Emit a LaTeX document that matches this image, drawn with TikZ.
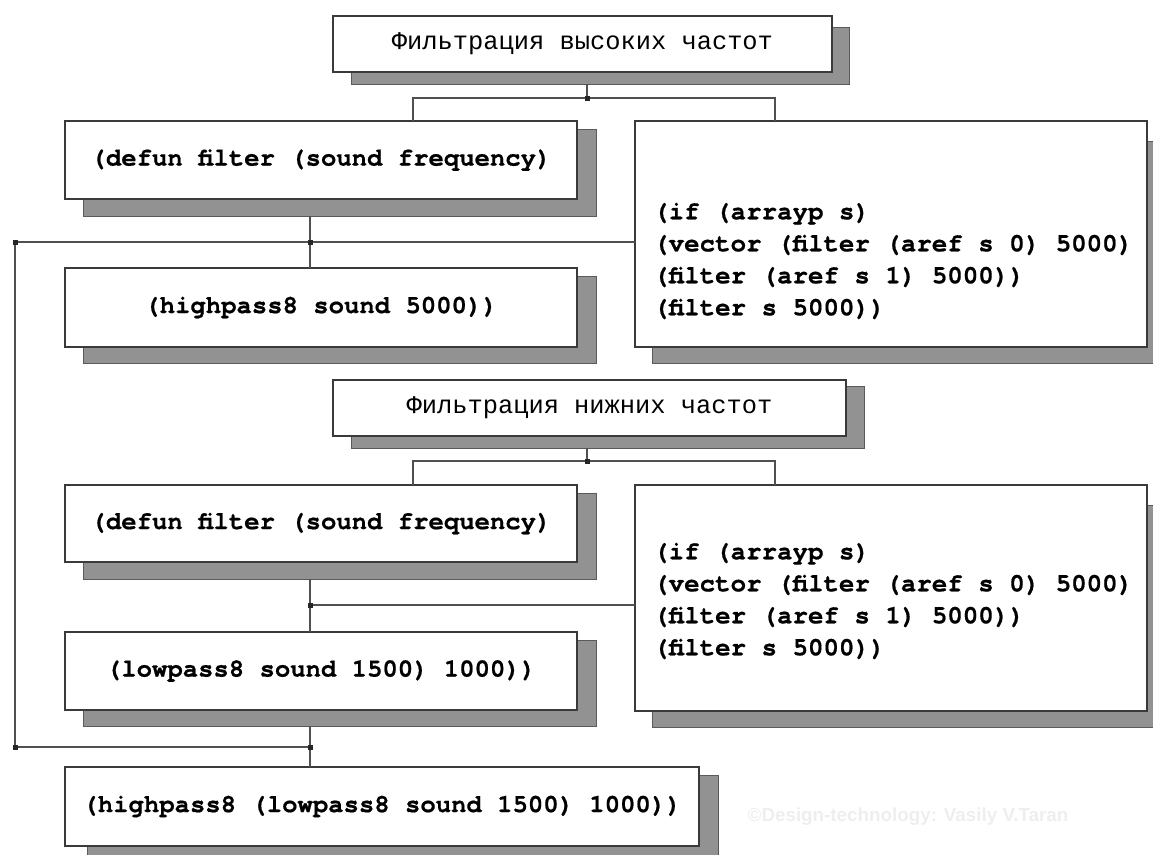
\documentclass[tikz,border=0pt]{standalone}
\usepackage{fontspec}
\setmainfont{Liberation Serif}
\setmonofont{TeX Gyre Cursor}[BoldFeatures={FakeBold=0.6}]
\newfontfamily\cyrmono{Liberation Mono}
\setsansfont{Liberation Sans}
\usetikzlibrary{calc,fit}
\definecolor{shadowfill}{HTML}{929292}
\definecolor{shadowline}{HTML}{5A5A5A}
\definecolor{boxline}{HTML}{3A3A3A}
\definecolor{connline}{HTML}{505050}
\definecolor{juncfill}{HTML}{262626}
\definecolor{markgray}{HTML}{EEEEEE}
\tikzset{
  shadowbox/.style={fill=shadowfill, draw=shadowline, line width=1pt, inner sep=0pt, outer sep=0pt},
  whitebox/.style={draw=boxline, fill=white, line width=1.2pt, inner sep=0pt, outer sep=0pt,
    font=\ttfamily\bfseries\fontsize{25.6}{32}\selectfont},
  titlebox/.style={whitebox, font=\cyrmono\fontsize{25.4}{32}\selectfont},
  codetext/.style={inner sep=0pt, align=left, anchor=west,
    font=\ttfamily\bfseries\fontsize{25.8}{32}\selectfont},
  conn/.style={draw=connline, line width=1.2pt},
  junc/.style={rectangle, fill=juncfill, minimum size=5pt, inner sep=0pt},
}
\begin{document}
\begin{tikzpicture}[x=1pt,y=-1pt]
\useasboundingbox (0,0) rectangle (1153,854);
% shadows
\node[shadowbox, fit={(351,27) (849,84)}] (s1) {};
\node[shadowbox, fit={(83,129) (596,216)}] (s2) {};
\node[shadowbox, fit={(652,141) (1160,363)}] (s3) {};
\node[shadowbox, fit={(83,276) (596,363)}] (s4) {};
\node[shadowbox, fit={(351,386) (864,448)}] (s5) {};
\node[shadowbox, fit={(83,493) (596,579)}] (s6) {};
\node[shadowbox, fit={(652,505) (1160,727)}] (s7) {};
\node[shadowbox, fit={(83,640) (596,726)}] (s8) {};
\node[shadowbox, fit={(87,775) (718,866)}] (s9) {};
% boxes
\node[titlebox, minimum width=499pt, minimum height=56pt] (b1) at (582.5,44) {Фильтрация высоких частот};
\node[whitebox, minimum width=512pt, minimum height=78pt] (b2) at (321,160) {(defun filter (sound frequency)};
\node[whitebox, minimum width=512pt, minimum height=226pt] (b3) at (891,234) {};
\node[codetext] (t3) at (653,261) {(if (arrayp s)\\(vector (filter (aref s 0) 5000)\\(filter (aref s 1) 5000))\\(filter s 5000))};
\node[whitebox, minimum width=512pt, minimum height=79pt] (b4) at (321,307.5) {(highpass8 sound 5000))};
\node[titlebox, minimum width=513pt, minimum height=56pt] (b5) at (589.5,408) {Фильтрация нижних частот};
\node[whitebox, minimum width=512pt, minimum height=77pt] (b6) at (321,523.5) {(defun filter (sound frequency)};
\node[whitebox, minimum width=512pt, minimum height=226pt] (b7) at (891,598) {};
\node[codetext] (t7) at (653,601) {(if (arrayp s)\\(vector (filter (aref s 0) 5000)\\(filter (aref s 1) 5000))\\(filter s 5000))};
\node[whitebox, minimum width=512pt, minimum height=78pt] (b8) at (321,671) {(lowpass8 sound 1500) 1000))};
\node[whitebox, minimum width=634pt, minimum height=79pt] (b9) at (382,806.5) {(highpass8 (lowpass8 sound 1500) 1000))};
% junctions
\node[junc] (j1) at (587,98) {};
\node[junc] (j2) at (15,242) {};
\node[junc] (j3) at (310,242) {};
\node[junc] (j4) at (587,461) {};
\node[junc] (j5) at (310,605) {};
\node[junc] (j6) at (310,747) {};
\node[junc] (j7) at (15,747) {};
% connectors
\draw[conn] (j1 |- s1.south) -- (j1.center);
\draw[conn] (j1.center) -| ($(b2.north west)+(348,0)$);
\draw[conn] (j1.center) -| ($(b3.north west)+(140,0)$);
\draw[conn] (j3 |- s2.south) -- (j3 |- b4.north);
\draw[conn] (j2.center) -- (j3.center) -- (j3 -| b3.west);
\draw[conn] (j2.center) -- (j7.center) -- (j6.center);
\draw[conn] (j4 |- s5.south) -- (j4.center);
\draw[conn] (j4.center) -| ($(b6.north west)+(348,0)$);
\draw[conn] (j4.center) -| ($(b7.north west)+(140,0)$);
\draw[conn] (j5 |- s6.south) -- (j5 |- b8.north);
\draw[conn] (j5.center) -- (j5 -| b7.west);
\draw[conn] (j6 |- s8.south) -- (j6 |- b9.north);
% redraw junctions on top
\node[junc] at (j1) {};
\node[junc] at (j2) {};
\node[junc] at (j3) {};
\node[junc] at (j4) {};
\node[junc] at (j5) {};
\node[junc] at (j6) {};
\node[junc] at (j7) {};
% watermark
\node[text=markgray, inner sep=0pt, font=\sffamily\bfseries\fontsize{18.8}{22}\selectfont] (wm) at (908,817) {©Design-technology: Vasily V.Taran};
\end{tikzpicture}
\end{document}
